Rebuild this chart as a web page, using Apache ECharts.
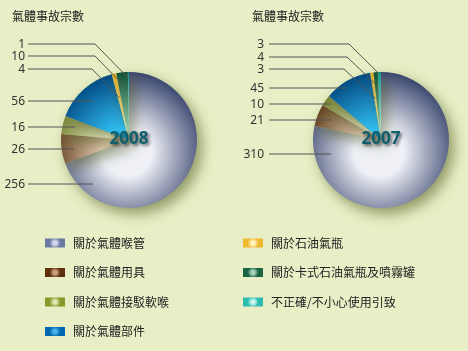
<!DOCTYPE html>
<html>
<head>
<meta charset="utf-8">
<script src="https://cdn.jsdelivr.net/npm/echarts@6/dist/echarts.min.js"></script>
<style>
  html, body { margin: 0; padding: 0; background: #e8efc6; }
  #chart { width: 468px; height: 351px; }
</style>
</head>
<body>
<div id="chart"></div>
<script>
// categories and values
const categories = ['關於氣體喉管', '關於氣體用具', '關於氣體接駁軟喉', '關於氣體部件', '關於石油氣瓶', '關於卡式石油氣瓶及噴霧罐', '不正確/不小心使用引致']
const values2008 = [256, 26, 16, 56, 4, 10, 1]
const values2007 = [310, 21, 10, 45, 3, 4, 3]
const years = ['2008', '2007']

// colours: light centre / dark edge
const lightColors = ['#eef0f6', '#e4cdb4', '#eef0cc', '#30bdf2', '#fff2a8', '#8fcaa9', '#a4eae2']
const darkColors = ['#34406a', '#4c2906', '#63721a', '#00447c', '#e0a820', '#0a4b2f', '#13968c']
const legendLight = ['#d4d8e8', '#c8a080', '#e0e6b0', '#48b0e8', '#fff4c0', '#a8d0b8', '#c8f4ee']
const legendDark = ['#6a78a2', '#5e300a', '#869828', '#0068b0', '#f0b830', '#1a6444', '#2cbcae']

// label layout: y of each label, where a straight line stops (x),
// or for the thin slices a bend x and how far into the slice the line goes
const labelY = [
  [184, 149, 127, 101, 69, 56, 44],
  [154, 120, 104, 88, 69, 57, 44]
]
const lineEndX = [
  [93, 74, 75, 93, null, null, null],
  [331, 331, 331, 347, null, null, null]
]
const bendX = [
  [null, null, null, null, 92, 95, 95],
  [null, null, null, null, 344, 347, 349]
]
const depth = [
  [0, 0, 0, 0, 0.64, 0.81, 0.91],
  [0, 0, 0, 0, 0.62, 0.81, 0.97]
]
const textRight = [25, 264]
const lineStart = [28, 269]
const centers = [[129, 140], [381, 140]]
const radius = 68

let myChart = echarts.init(document.getElementById('chart'))

function sliceColor(i, s) {
  return {
    type: 'radial',
    x: centers[s][0] - 2,
    y: centers[s][1] + 12,
    r: 82,
    global: true,
    colorStops: [
      { offset: 0, color: lightColors[i] },
      { offset: 0.3, color: lightColors[i] },
      { offset: 1, color: darkColors[i] }
    ]
  }
}

// the shaded pie itself
function pieSeries(vals, s) {
  return {
    name: years[s],
    type: 'pie',
    center: centers[s],
    radius: radius,
    startAngle: 90,
    clockwise: true,
    animation: false,
    silent: true,
    z: 2,
    data: vals.map(function(v, i) {
      return { name: categories[i], value: v, itemStyle: { color: sliceColor(i, s) } }
    }),
    itemStyle: {
      borderWidth: 0,
      shadowBlur: 14,
      shadowOffsetX: 5,
      shadowOffsetY: 6,
      shadowColor: 'rgba(70,80,20,0.55)'
    },
    label: { show: false },
    labelLine: { show: false }
  }
}

// same pie, invisible, only carries the labels so the lines sit on top
function labelSeries(vals, s) {
  return {
    name: years[s] + ' labels',
    type: 'pie',
    center: centers[s],
    radius: radius,
    startAngle: 90,
    clockwise: true,
    animation: false,
    silent: true,
    z: 5,
    data: vals.map(function(v, i) {
      return { name: categories[i], value: v }
    }),
    itemStyle: { color: 'rgba(0,0,0,0)', borderWidth: 0 },
    label: {
      show: true,
      formatter: '{c}',
      color: '#333',
      fontFamily: 'Noto Sans',
      fontSize: 12,
      overflow: 'none'
    },
    labelLine: {
      show: true,
      lineStyle: { color: '#555', width: 1 }
    },
    labelLayout: function(params) {
      const i = params.dataIndex
      const y = labelY[s][i]
      let pts
      if (lineEndX[s][i] !== null) {
        const ex = lineEndX[s][i]
        pts = [[ex, y], [(ex + lineStart[s]) / 2, y], [lineStart[s], y]]
      } else {
        const c = centers[s]
        const edge = params.labelLinePoints ? params.labelLinePoints[0] : c
        const f = depth[s][i]
        const px = c[0] + (edge[0] - c[0]) * f
        const py = c[1] + (edge[1] - c[1]) * f
        pts = [[px, py], [bendX[s][i], y], [lineStart[s], y]]
      }
      return {
        x: textRight[s],
        y: y + 1,
        align: 'right',
        verticalAlign: 'middle',
        labelLinePoints: pts
      }
    }
  }
}

function legendItem(i) {
  return {
    name: categories[i],
    itemStyle: {
      color: {
        type: 'radial', x: 0.5, y: 0.5, r: 0.6,
        colorStops: [
          { offset: 0, color: legendLight[i] },
          { offset: 0.35, color: legendLight[i] },
          { offset: 1, color: legendDark[i] }
        ]
      },
      shadowBlur: 0,
      shadowOffsetX: 0,
      shadowOffsetY: 0
    }
  }
}

const legendText = {
  color: '#222',
  fontFamily: 'Noto Sans CJK TC',
  fontSize: 12,
  lineHeight: 14,
  padding: [0, 0, 0, 3]
}
const titleText = { fontSize: 12, fontWeight: 'normal', color: '#222', fontFamily: 'Noto Sans CJK TC' }

let option = {
  backgroundColor: '#e8efc6',
  title: [
    { text: '氣體事故宗數', left: 12, top: 10, padding: 0, textStyle: titleText },
    { text: '氣體事故宗數', left: 252, top: 10, padding: 0, textStyle: titleText }
  ],
  legend: [
    {
      orient: 'vertical',
      left: 45,
      top: 236,
      padding: 0,
      itemWidth: 20,
      itemHeight: 9,
      itemGap: 15.5,
      icon: 'rect',
      selectedMode: false,
      textStyle: legendText,
      data: [0, 1, 2, 3].map(legendItem)
    },
    {
      orient: 'vertical',
      left: 243,
      top: 236,
      padding: 0,
      itemWidth: 20,
      itemHeight: 9,
      itemGap: 15.5,
      icon: 'rect',
      selectedMode: false,
      textStyle: legendText,
      data: [4, 5, 6].map(legendItem)
    }
  ],
  graphic: years.map(function(yr, s) {
    return {
      type: 'text',
      z: 100,
      x: centers[s][0],
      y: centers[s][1] - 1,
      style: {
        text: yr,
        align: 'center',
        verticalAlign: 'middle',
        fill: '#0e5e6c',
        font: 'bold 17px "Open Sans", sans-serif',
        textShadowColor: 'rgba(0,0,0,0.55)',
        textShadowBlur: 3,
        textShadowOffsetX: 2,
        textShadowOffsetY: 2
      }
    }
  }),
  series: [
    pieSeries(values2008, 0),
    pieSeries(values2007, 1),
    labelSeries(values2008, 0),
    labelSeries(values2007, 1)
  ]
}

myChart.setOption(option)
</script>
</body>
</html>
